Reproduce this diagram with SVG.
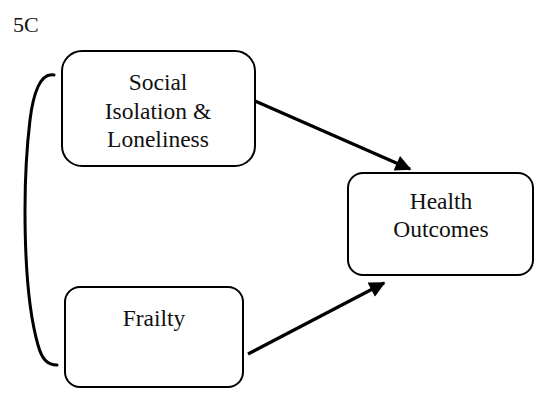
<svg xmlns="http://www.w3.org/2000/svg" width="540" height="393" viewBox="0 0 540 393">
  <defs>
    <marker id="arrowhead" viewBox="0 0 10 10" refX="9" refY="5" markerWidth="6.5" markerHeight="5" markerUnits="strokeWidth" orient="auto">
      <path d="M0 0 L10 5 L0 10 Z" fill="#000"/>
    </marker>
    <style>
      .box { fill: #fff; stroke: #000; stroke-width: 2; }
      .label { font-family: "Liberation Serif", "Times New Roman", serif; font-size: 23.5px; fill: #111; text-anchor: middle; }
      .link { fill: none; stroke: #000; stroke-width: 3.2; marker-end: url(#arrowhead); }
      .brace { fill: none; stroke: #000; stroke-width: 3; stroke-linecap: round; }
    </style>
  </defs>
  <rect width="540" height="393" fill="#fff"/>

  <text class="label" x="13" y="32" style="text-anchor:start;font-size:22px">5C</text>

  <g id="social-isolation">
    <rect class="box" x="62" y="51" width="193" height="115" rx="20" ry="20"/>
    <text class="label" x="158" y="90">Social</text>
    <text class="label" x="158" y="119">Isolation &amp;</text>
    <text class="label" x="158" y="147">Loneliness</text>
  </g>

  <g id="frailty">
    <rect class="box" x="65" y="287" width="178" height="100" rx="15" ry="15"/>
    <text class="label" x="154" y="326">Frailty</text>
  </g>

  <g id="health-outcomes">
    <rect class="box" x="348" y="173" width="185" height="102" rx="15" ry="15"/>
    <text class="label" x="441" y="209">Health</text>
    <text class="label" x="441" y="237">Outcomes</text>
  </g>

  <g id="connectors">
    <path class="link" d="M255 101 L410 169"/>
    <path class="link" d="M248 354 L384 283"/>
    <path class="brace" d="M54 75 C40 72, 33 95, 30 120 C27 145, 25 175, 25 210 C25 260, 28 310, 38 345 C42 360, 48 365, 57 365"/>
  </g>
</svg>
